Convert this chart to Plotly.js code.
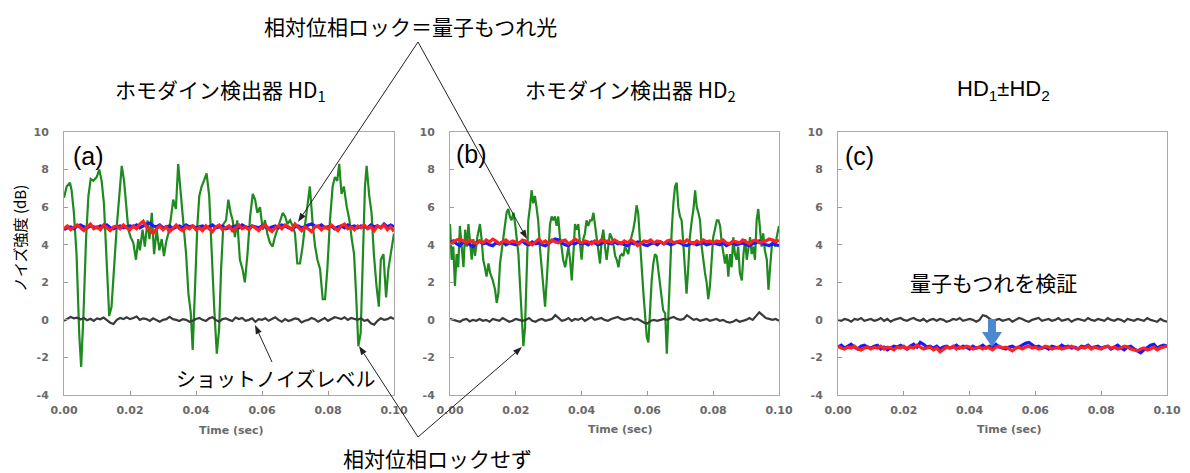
<!DOCTYPE html>
<html>
<head>
<meta charset="utf-8">
<script src="https://cdn.plot.ly/plotly-3.0.1.min.js"></script>
<style>html,body{margin:0;padding:0;background:#fff;}#chart{width:1190px;height:473px;}</style>
</head>
<body>
<div id="chart"></div>
<script>
// ---------------- DATA ----------------
const xTickVals = [0, 0.02, 0.04, 0.06, 0.08, 0.10];
const xTickLabels = ["0.00", "0.02", "0.04", "0.06", "0.08", "0.10"];
const yTickVals = [-4, -2, 0, 2, 4, 6, 8, 10];
const yTickLabels = ["-4", "-2", "0", "2", "4", "6", "8", "10"];

const panelTitles = ["ホモダイン検出器 HD<sub>1</sub>", "ホモダイン検出器 HD<sub>2</sub>", "HD<sub>1</sub>±HD<sub>2</sub>"];
const panelLabels = ["(a)", "(b)", "(c)"];
const xTitle = "Time (sec)";
const yTitle = "ノイズ強度 (dB)";
const noteLocked = "相対位相ロック＝量子もつれ光";
const noteUnlocked = "相対位相ロックせず";
const noteShot = "ショットノイズレベル";
const noteVerify = "量子もつれを検証";

// common sample times for the locked / shot-noise traces (sec)
const tS = [0,0.001,0.002,0.003,0.004,0.005,0.006,0.007,0.008,0.009,
0.010,0.011,0.012,0.013,0.014,0.015,0.016,0.017,0.018,0.019,
0.020,0.021,0.022,0.023,0.024,0.025,0.026,0.027,0.028,0.029,
0.030,0.031,0.032,0.033,0.034,0.035,0.036,0.037,0.038,0.039,
0.040,0.041,0.042,0.043,0.044,0.045,0.046,0.047,0.048,0.049,
0.050,0.051,0.052,0.053,0.054,0.055,0.056,0.057,0.058,0.059,
0.060,0.061,0.062,0.063,0.064,0.065,0.066,0.067,0.068,0.069,
0.070,0.071,0.072,0.073,0.074,0.075,0.076,0.077,0.078,0.079,
0.080,0.081,0.082,0.083,0.084,0.085,0.086,0.087,0.088,0.089,
0.090,0.091,0.092,0.093,0.094,0.095,0.096,0.097,0.098,0.099,
0.100];

// (a) HD1 — unlocked (green)
const tGreenA = [0,0.0008,0.0018,0.0023,0.0030,0.0038,0.0046,0.0052,0.0059,0.0067,
0.0074,0.0081,0.0089,0.0099,0.0107,0.0114,0.0121,0.0129,0.0137,0.0144,
0.0152,0.0160,0.0168,0.0175,0.0182,0.0188,0.0195,0.0202,0.0210,0.0218,
0.0225,0.0230,0.0238,0.0245,0.0253,0.0259,0.0266,0.0273,0.0281,0.0289,
0.0296,0.0303,0.0309,0.0316,0.0323,0.0331,0.0339,0.0346,0.0352,0.0357,
0.0362,0.0370,0.0377,0.0384,0.0390,0.0397,0.0404,0.0410,0.0417,0.0424,
0.0432,0.0440,0.0447,0.0455,0.0463,0.0470,0.0476,0.0483,0.0491,0.0498,
0.0505,0.0511,0.0518,0.0525,0.0533,0.0541,0.0548,0.0556,0.0564,0.0572,
0.0579,0.0586,0.0594,0.0602,0.0609,0.0616,0.0624,0.0632,0.0639,0.0646,
0.0655,0.0663,0.0670,0.0677,0.0685,0.0693,0.0700,0.0707,0.0715,0.0723,
0.0730,0.0737,0.0745,0.0754,0.0761,0.0768,0.0776,0.0784,0.0791,0.0798,
0.0806,0.0814,0.0821,0.0828,0.0834,0.0841,0.0848,0.0857,0.0865,0.0872,
0.0879,0.0885,0.0892,0.0899,0.0905,0.0912,0.0917,0.0925,0.0932,0.0939,
0.0947,0.0954,0.0960,0.0968,0.0976,0.0983,0.0990,0.1000];
const greenA = [6.5,7.1,7.3,6.9,5.7,3.5,-0.7,-2.5,0.3,4.4,
6.6,7.5,7.4,7.6,8.0,7.4,6.2,3.2,0.2,0.7,
3.2,5.0,6.7,8.2,7.4,6.2,4.8,4.4,4.1,3.2,
4.3,3.7,4.8,3.9,5.3,4.3,5.7,3.5,4.8,3.7,
4.3,3.4,4.1,4.6,5.3,6.4,5.9,8.3,7.1,6.0,
5.3,3.5,1.4,0.4,-1.6,1.8,5.0,6.6,7.1,7.4,
7.8,6.6,3.5,0.7,-1.8,-0.5,2.7,5.1,5.3,6.4,
5.7,5.3,4.4,5.3,3.2,2.7,2.0,3.5,5.5,6.7,
6.4,5.7,6.0,4.8,5.3,4.6,4.1,3.9,4.4,4.8,
5.3,5.7,5.5,5.1,5.3,5.0,4.6,3.0,3.0,3.9,
5.0,6.0,7.1,5.0,3.9,3.2,2.7,1.1,1.1,2.7,
5.3,7.1,7.6,7.4,8.3,6.7,7.1,6.0,5.3,4.3,
3.5,1.4,-1.4,-0.7,3.5,7.1,8.2,6.6,5.7,3.5,
1.8,0.7,3.2,3.5,1.2,2.7,3.5,4.6];
const blueA = [4.80,4.90,4.95,4.85,5.00,5.05,4.95,4.90,5.00,4.95,
4.90,5.00,4.95,5.05,4.90,4.85,4.95,5.00,4.90,4.95,
5.00,4.95,5.05,4.90,5.00,5.10,5.15,5.00,4.95,5.05,
4.90,4.95,5.00,4.85,4.95,5.00,4.90,5.05,4.95,5.00,
4.90,4.95,5.00,4.90,4.95,5.05,4.90,4.95,5.00,4.85,
4.90,4.95,5.00,4.90,5.05,4.95,4.90,5.00,4.95,4.90,
5.00,4.95,4.85,4.95,5.00,4.90,5.05,5.00,4.90,4.85,
4.95,5.00,4.90,4.95,5.05,5.10,5.00,4.95,5.05,4.90,
4.95,5.00,4.85,4.95,5.00,4.90,5.05,4.95,5.00,4.90,
5.00,4.95,4.90,5.05,4.95,5.00,4.90,5.10,4.95,5.05,
4.95];
const redA = [4.85,5.00,4.80,4.95,5.05,4.90,4.75,4.95,5.10,4.85,
4.95,4.80,5.05,4.90,4.75,4.95,5.00,4.85,5.05,4.90,
4.80,5.00,4.85,5.10,5.25,4.95,4.75,4.60,4.85,5.00,
4.80,4.95,4.70,4.90,5.05,4.85,4.75,4.95,4.85,5.00,
4.80,4.90,4.75,5.00,4.85,4.70,4.95,5.05,4.80,4.90,
5.00,4.75,4.90,5.05,4.85,4.95,4.80,5.00,4.90,4.75,
4.95,5.05,4.85,4.70,4.90,5.00,4.85,5.05,4.95,4.80,
5.10,4.90,4.75,4.95,4.85,4.70,4.95,5.00,4.80,4.95,
4.85,5.05,4.90,4.75,5.00,5.10,4.85,4.95,4.80,5.00,
4.90,5.05,4.85,4.95,4.75,5.00,4.90,5.05,4.80,4.95,
4.70];
const shotA = [-0.05,0.05,0.15,0.08,0.12,0.02,0.10,-0.02,0.06,-0.05,
0.08,0.03,0.12,-0.02,-0.15,-0.22,0.00,0.10,0.04,0.14,
0.04,0.10,0.18,0.00,0.08,0.04,-0.06,0.08,0.00,-0.10,
0.00,0.04,0.16,0.04,0.00,-0.06,0.04,0.00,-0.10,-0.05,
0.05,0.10,0.00,-0.06,0.08,0.14,0.00,-0.10,0.04,0.08,
0.00,-0.06,0.12,0.04,0.10,-0.05,0.00,0.08,-0.10,0.04,
0.00,0.08,-0.05,0.04,0.14,0.00,-0.10,0.04,-0.06,0.00,
0.08,0.04,-0.14,-0.05,0.00,0.10,0.04,-0.10,0.00,0.10,
-0.05,0.04,0.14,0.10,0.04,0.14,0.00,0.10,0.04,0.00,
0.08,-0.05,0.00,-0.18,-0.26,-0.05,0.08,0.00,0.04,0.14,
0.05];

// (b) HD2
const tGreenB = [0,0.0005,0.0010,0.0015,0.0020,0.0025,0.0030,0.0035,0.0041,0.0046,
0.0051,0.0056,0.0061,0.0066,0.0071,0.0076,0.0083,0.0091,0.0096,0.0101,
0.0106,0.0111,0.0117,0.0122,0.0130,0.0137,0.0142,0.0147,0.0152,0.0157,
0.0164,0.0172,0.0177,0.0182,0.0187,0.0193,0.0198,0.0203,0.0208,0.0213,
0.0218,0.0223,0.0228,0.0233,0.0238,0.0243,0.0248,0.0253,0.0258,0.0263,
0.0268,0.0274,0.0279,0.0284,0.0289,0.0294,0.0299,0.0304,0.0309,0.0314,
0.0319,0.0324,0.0329,0.0334,0.0339,0.0344,0.0350,0.0355,0.0360,0.0365,
0.0370,0.0375,0.0380,0.0385,0.0390,0.0395,0.0400,0.0405,0.0410,0.0415,
0.0420,0.0426,0.0431,0.0436,0.0441,0.0446,0.0451,0.0456,0.0461,0.0466,
0.0471,0.0476,0.0481,0.0486,0.0491,0.0496,0.0502,0.0507,0.0512,0.0517,
0.0522,0.0527,0.0532,0.0537,0.0542,0.0547,0.0552,0.0557,0.0562,0.0567,
0.0572,0.0578,0.0583,0.0588,0.0593,0.0598,0.0603,0.0608,0.0613,0.0618,
0.0623,0.0628,0.0633,0.0638,0.0643,0.0648,0.0654,0.0659,0.0664,0.0669,
0.0674,0.0679,0.0684,0.0689,0.0694,0.0699,0.0704,0.0709,0.0714,0.0719,
0.0724,0.0729,0.0735,0.0740,0.0745,0.0750,0.0755,0.0760,0.0765,0.0770,
0.0775,0.0780,0.0785,0.0790,0.0795,0.0800,0.0805,0.0811,0.0816,0.0821,
0.0826,0.0831,0.0836,0.0841,0.0846,0.0851,0.0856,0.0861,0.0866,0.0871,
0.0876,0.0881,0.0887,0.0892,0.0897,0.0902,0.0907,0.0912,0.0917,0.0922,
0.0927,0.0932,0.0937,0.0942,0.0947,0.0952,0.0957,0.0963,0.0968,0.0973,
0.0978,0.0983,0.0988,0.0993,0.1000];
const greenB = [5.1,3.2,3.9,1.8,3.5,2.8,5.0,3.9,2.8,4.8,
3.9,5.1,4.1,3.2,4.3,3.4,4.4,5.1,4.3,3.2,
2.8,2.3,3.0,2.5,2.1,1.6,0.9,1.4,3.0,3.7,
4.6,5.7,5.9,5.5,5.3,5.7,5.1,4.4,3.5,1.8,
0.0,-1.4,-0.4,2.3,5.3,6.0,6.9,6.2,6.6,6.0,
5.3,3.7,2.7,1.4,0.7,2.1,3.5,5.1,5.5,5.3,
5.5,5.0,5.5,4.4,3.9,3.2,2.8,3.5,3.9,3.2,
2.1,3.5,5.1,4.8,5.1,4.1,3.2,4.3,4.6,5.3,
5.0,5.3,5.3,5.7,5.0,4.3,3.5,3.0,4.3,4.8,
3.9,3.2,3.9,4.6,4.4,4.1,3.4,3.2,2.8,3.4,
3.5,3.4,3.9,3.7,3.5,4.1,4.4,4.8,5.3,6.1,
5.7,4.3,2.7,1.4,0.0,-0.9,-1.2,0.7,2.1,3.0,
3.5,3.4,2.7,2.1,1.1,0.5,0.35,-1.8,0.35,2.7,
4.8,6.2,7.1,7.3,6.0,5.5,5.3,4.1,2.5,1.4,
2.7,4.4,5.3,5.9,6.9,6.0,5.7,5.3,3.9,3.0,
2.5,2.0,1.1,1.8,3.2,4.4,4.8,5.3,5.3,5.0,
4.1,3.5,3.0,3.5,2.3,3.5,2.8,4.4,3.5,3.2,
3.9,2.5,2.1,3.5,4.3,3.2,3.9,4.4,3.5,3.9,
3.2,5.3,5.9,5.0,3.9,4.6,3.7,3.2,1.6,2.8,
3.9,4.3,3.9,4.4,5.0];
const blueB = [4.10,4.20,4.05,3.95,4.15,4.10,4.00,3.90,4.10,4.20,
4.05,4.10,4.00,3.95,4.10,4.05,4.15,4.00,4.10,4.05,
4.00,4.10,4.20,4.05,4.00,4.15,4.05,4.10,4.00,3.95,
4.10,4.20,4.30,4.25,4.10,4.00,3.95,4.10,4.05,4.15,
4.05,4.10,4.00,4.15,4.10,4.00,4.05,4.20,4.10,4.05,
4.15,4.05,4.10,4.00,3.95,4.10,4.05,4.15,4.10,4.00,
3.95,4.05,4.10,4.00,4.15,4.05,4.10,4.00,4.05,4.15,
4.10,4.00,3.95,4.05,4.10,4.00,4.05,4.10,4.00,4.05,
4.10,4.05,4.00,4.10,3.95,4.05,4.10,4.00,4.05,4.10,
4.00,3.95,4.05,4.10,4.20,4.05,4.00,3.95,4.05,4.00,
3.95];
const redB = [4.05,4.15,4.25,4.30,4.20,4.10,4.25,4.15,4.05,4.20,
4.10,4.25,4.15,4.30,4.20,4.05,4.15,4.25,4.10,4.20,
4.15,4.05,4.25,4.20,4.10,4.00,4.15,4.30,4.10,4.20,
4.05,4.25,4.15,4.10,4.20,4.25,4.05,4.15,4.30,4.20,
4.10,4.20,4.15,4.05,4.20,4.10,4.25,4.15,4.20,4.10,
4.25,4.15,4.05,4.20,4.10,4.25,4.15,3.95,4.10,4.20,
4.15,4.25,4.10,4.20,4.15,4.05,4.20,4.25,4.10,4.15,
4.20,4.10,4.25,4.15,4.05,4.20,4.10,4.25,4.15,4.20,
4.10,4.20,4.15,4.25,4.10,4.05,4.20,4.15,4.10,4.25,
4.15,4.05,4.20,4.25,4.10,4.15,4.20,4.30,4.25,4.15,
4.25];
const shotB = [0.05,0.00,-0.05,-0.10,0.00,0.05,-0.08,0.00,-0.05,0.05,
-0.05,0.00,-0.10,0.05,0.00,-0.05,0.10,0.00,-0.10,-0.05,
0.05,0.00,-0.05,0.00,0.10,-0.05,-0.10,0.00,0.05,-0.05,
0.00,0.05,0.25,0.10,-0.05,0.00,0.10,-0.05,0.05,0.00,
0.10,-0.05,0.05,0.15,0.00,0.05,0.10,0.00,-0.05,0.05,
0.10,0.15,0.05,0.00,0.05,0.10,0.00,0.05,-0.05,-0.15,
-0.20,-0.05,0.00,-0.05,0.00,0.05,0.00,0.10,0.15,0.05,
0.00,0.05,0.25,0.10,0.00,0.05,-0.05,0.00,0.05,-0.05,
0.00,0.05,-0.05,0.00,-0.10,-0.15,-0.10,0.00,-0.10,-0.05,
0.00,0.10,0.00,0.20,0.40,0.25,0.10,0.05,0.00,0.05,
-0.05];

// (c) HD1 ± HD2
const blueC = [-1.45,-1.35,-1.50,-1.40,-1.30,-1.45,-1.55,-1.40,-1.35,-1.45,
-1.50,-1.40,-1.35,-1.55,-1.45,-1.60,-1.50,-1.40,-1.45,-1.35,
-1.45,-1.55,-1.40,-1.30,-1.45,-1.20,-1.30,-1.45,-1.40,-1.50,
-1.40,-1.55,-1.45,-1.40,-1.50,-1.45,-1.35,-1.50,-1.40,-1.45,
-1.55,-1.40,-1.50,-1.45,-1.35,-1.50,-1.40,-1.45,-1.30,-1.45,
-1.50,-1.55,-1.45,-1.40,-1.50,-1.45,-1.35,-1.25,-1.20,-1.35,
-1.45,-1.40,-1.50,-1.45,-1.55,-1.40,-1.45,-1.50,-1.35,-1.45,
-1.40,-1.50,-1.45,-1.55,-1.40,-1.45,-1.35,-1.50,-1.45,-1.40,
-1.50,-1.45,-1.40,-1.55,-1.45,-1.35,-1.50,-1.60,-1.45,-1.40,
-1.55,-1.65,-1.75,-1.60,-1.45,-1.35,-1.30,-1.50,-1.40,-1.35,
-1.40];
const redC = [-1.40,-1.50,-1.55,-1.45,-1.50,-1.40,-1.55,-1.60,-1.50,-1.45,
-1.55,-1.45,-1.50,-1.40,-1.55,-1.45,-1.50,-1.60,-1.45,-1.50,
-1.40,-1.55,-1.45,-1.50,-1.35,-1.45,-1.55,-1.50,-1.45,-1.60,
-1.50,-1.70,-1.55,-1.45,-1.50,-1.40,-1.55,-1.45,-1.50,-1.40,
-1.45,-1.55,-1.50,-1.45,-1.55,-1.45,-1.50,-1.60,-1.45,-1.40,
-1.50,-1.45,-1.55,-1.65,-1.50,-1.45,-1.55,-1.45,-1.40,-1.50,
-1.45,-1.55,-1.50,-1.40,-1.45,-1.55,-1.50,-1.45,-1.55,-1.50,
-1.45,-1.40,-1.50,-1.55,-1.45,-1.50,-1.40,-1.55,-1.45,-1.50,
-1.55,-1.45,-1.40,-1.50,-1.45,-1.55,-1.50,-1.40,-1.45,-1.55,
-1.60,-1.65,-1.55,-1.50,-1.60,-1.55,-1.45,-1.60,-1.50,-1.45,
-1.40];
const shotC = [0.00,-0.05,0.05,0.00,-0.10,0.05,0.00,0.10,-0.05,0.00,
0.05,-0.05,0.00,0.10,-0.05,0.05,-0.10,0.00,0.05,0.10,
0.00,-0.05,0.05,0.10,0.00,-0.05,0.05,-0.10,0.00,0.05,
-0.05,0.05,0.00,-0.10,-0.05,0.05,0.00,0.10,-0.05,0.00,
0.05,0.00,-0.10,0.00,0.25,0.20,0.05,-0.05,0.00,0.05,
-0.05,0.00,0.05,-0.10,0.00,0.10,0.05,-0.05,-0.10,0.00,
0.05,0.10,-0.05,0.00,0.05,-0.05,0.00,0.10,-0.05,0.00,
0.05,-0.10,0.00,0.05,0.00,-0.05,0.10,0.00,-0.05,0.05,
0.00,-0.05,0.10,0.00,-0.05,0.05,0.00,-0.10,0.05,0.00,
-0.05,0.05,0.00,-0.05,0.10,0.00,-0.05,-0.10,0.05,-0.05,
-0.10];

// ---------------- STYLE / LAYOUT ----------------
const W = 1190, H = 473;
const fx = p => p / W;
const fy = p => 1 - p / H;
const GREEN = '#1f8a1f', BLUE = '#1a1aff', RED = '#ff2020', BLACK = '#3a3a3a';
const CJK = '"Noto Sans CJK JP", "Noto Sans", sans-serif';
const LAT = '"Liberation Sans", Arial, sans-serif';
const SMALL = '"DejaVu Sans", sans-serif';

function line(x, y, color, width, xa, ya) {
  return {x: x, y: y, type: 'scatter', mode: 'lines', xaxis: xa, yaxis: ya,
          line: {color: color, width: width}, hoverinfo: 'skip'};
}

const data = [
  line(tGreenA, greenA, GREEN, 2.2, 'x', 'y'),
  line(tS, shotA, BLACK, 2.2, 'x', 'y'),
  line(tS, blueA, BLUE, 3.2, 'x', 'y'),
  line(tS, redA, RED, 3.2, 'x', 'y'),
  line(tGreenB, greenB, GREEN, 2.2, 'x2', 'y2'),
  line(tS, shotB, BLACK, 2.2, 'x2', 'y2'),
  line(tS, blueB, BLUE, 3.2, 'x2', 'y2'),
  line(tS, redB, RED, 3.2, 'x2', 'y2'),
  line(tS, shotC, BLACK, 2.2, 'x3', 'y3'),
  line(tS, blueC, BLUE, 3.2, 'x3', 'y3'),
  line(tS, redC, RED, 3.2, 'x3', 'y3')
];

const tickFont = {family: SMALL, size: 11, color: '#6a6a6a', weight: 'bold'};
function xAx(l, r, anchor) {
  return {domain: [fx(l), fx(r)], anchor: anchor, range: [0, 0.1],
    tickvals: xTickVals, ticktext: xTickLabels, ticks: 'inside', ticklen: 4, tickcolor: '#999',
    showline: true, linecolor: '#aaa', linewidth: 1, mirror: true, showgrid: false, zeroline: false,
    tickfont: tickFont, ticklabelstandoff: 5, fixedrange: true};
}
function yAx(anchor) {
  return {domain: [fy(395), fy(132)], anchor: anchor, range: [-4, 10],
    tickvals: yTickVals, ticktext: yTickLabels, ticks: 'inside', ticklen: 4, tickcolor: '#999',
    showline: true, linecolor: '#aaa', linewidth: 1, mirror: true, showgrid: false, zeroline: false,
    tickfont: tickFont, ticklabelstandoff: 12, fixedrange: true};
}

function txt(text, x, y, size, family, color, extra) {
  return Object.assign({text: text, xref: 'paper', yref: 'paper', x: fx(x), y: fy(y),
    xanchor: 'center', yanchor: 'middle', showarrow: false,
    font: {family: family, size: size, color: color || '#000'}}, extra || {});
}
const smallBold = {font: {family: SMALL, size: 11, color: '#6a6a6a', weight: 'bold'}};

const annotations = [
  txt(noteLocked, 410, 26, 21, CJK),
  txt(panelTitles[0], 220, 90, 21, CJK),
  txt(panelTitles[1], 630, 90, 21, CJK),
  txt(panelTitles[2], 1003, 90, 22, LAT),
  txt(panelLabels[0], 88, 156, 25, LAT),
  txt(panelLabels[1], 471, 154, 25, LAT),
  txt(panelLabels[2], 859, 156, 25, LAT),
  txt(noteShot, 275, 378, 20, CJK),
  txt(noteUnlocked, 437, 458, 21, CJK),
  txt(noteVerify, 993, 282, 21, CJK),
  txt(yTitle, 20, 239, 15, CJK, '#000', {textangle: -90}),
  txt(xTitle, 231, 430, 11, SMALL, '#6a6a6a', smallBold),
  txt(xTitle, 620, 429, 11, SMALL, '#6a6a6a', smallBold),
  txt(xTitle, 1009, 429, 11, SMALL, '#6a6a6a', smallBold)
];

// pointer arrows (page pixels: tail -> head), drawn as line + triangular head
const pointers = [
  [418, 42, 298, 222],
  [418, 42, 527, 239],
  [418, 437, 359, 346],
  [418, 437, 522, 347],
  [272, 362, 255, 325]
];
const shapes = [];
pointers.forEach(function(p) {
  const dx = p[2] - p[0], dy = p[3] - p[1];
  const len = Math.sqrt(dx * dx + dy * dy);
  const ux = dx / len, uy = dy / len;
  const L = 9, w = 3.2;
  const bx = p[2] - ux * L, by = p[3] - uy * L;
  shapes.push({type: 'line', xref: 'paper', yref: 'paper',
    x0: fx(p[0]), y0: fy(p[1]), x1: fx(bx), y1: fy(by), line: {color: '#222', width: 1}});
  const c1x = -ux * L - uy * w, c1y = -uy * L + ux * w;
  const c2x = -ux * L + uy * w, c2y = -uy * L - ux * w;
  shapes.push({type: 'path', xref: 'paper', yref: 'paper', xsizemode: 'pixel', ysizemode: 'pixel',
    xanchor: fx(p[2]), yanchor: fy(p[3]),
    path: 'M0,0 L' + c1x.toFixed(2) + ',' + (-c1y).toFixed(2) + ' L' + c2x.toFixed(2) + ',' + (-c2y).toFixed(2) + ' Z',
    fillcolor: '#222', line: {width: 0}});
});
// blue block arrow in panel (c)
shapes.push({
  type: 'path', xref: 'x3', yref: 'y3', xsizemode: 'pixel', ysizemode: 'pixel',
  xanchor: 0.0468, yanchor: -1.44,
  path: 'M0,0 L-10,15 L-4,15 L-4,28 L4,28 L4,15 L10,15 Z',
  fillcolor: '#4a8ad0', line: {width: 0}
});

const layout = {
  width: W, height: H, margin: {l: 0, r: 0, t: 0, b: 0},
  paper_bgcolor: '#fff', plot_bgcolor: '#fff', showlegend: false,
  font: {family: LAT, color: '#000'},
  xaxis: xAx(64, 394, 'y'), yaxis: yAx('x'),
  xaxis2: xAx(450, 779, 'y2'), yaxis2: yAx('x2'),
  xaxis3: xAx(838, 1167, 'y3'), yaxis3: yAx('x3'),
  annotations: annotations, shapes: shapes
};

Plotly.newPlot('chart', data, layout, {staticPlot: true, displayModeBar: false});
</script>
</body>
</html>
